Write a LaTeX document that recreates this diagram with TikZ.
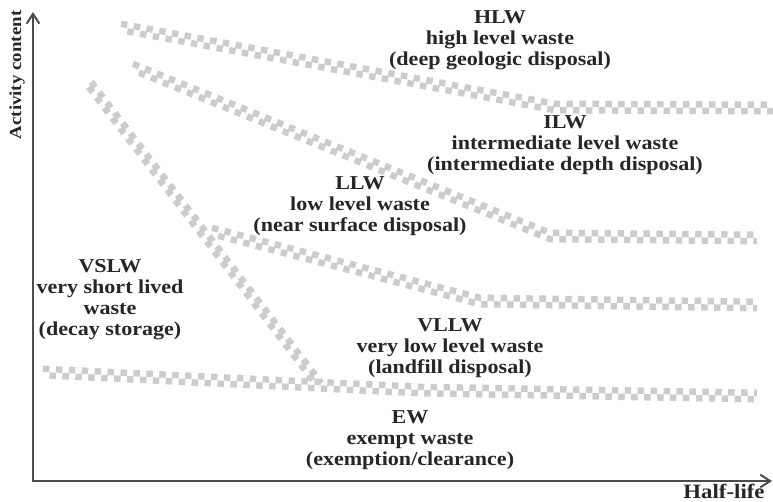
\documentclass[tikz,border=0pt]{standalone}
\usepackage{fontspec}
\setmainfont{Liberation Serif}[FakeStretch=1.12]
\usetikzlibrary{arrows.meta}

\begin{document}
\begin{tikzpicture}[
    x=0.025cm, y=-0.025cm,
    every node/.style={font=\bfseries\fontsize{14}{15}\selectfont, align=center, text=black!85},
    axis/.style={{Straight Barb[length=7pt,width=9pt]}-{Straight Barb[length=7pt,width=9pt]}, line width=1.4pt, black!70},
    band/.style={black!20, line width=4.6pt, dash pattern=on 4.6pt off 4.6pt}
]
\useasboundingbox (0,0) rectangle (773,501);

% 坐标轴
\coordinate (o) at (33,481);
\coordinate (ytop) at (33,12);
\coordinate (xend) at (772,481);
\draw[axis] (ytop) -- (o) -- (xend);
\node[rotate=90, font=\bfseries\fontsize{12}{14}\selectfont] (ylab) at (17,75) {Activity content};
\node[font=\bfseries\fontsize{14.5}{17}\selectfont, inner sep=1pt] (xlab) at (724,491) {Half-life};

% 分界带的折点
\coordinate (hi0) at (121,27);
\coordinate (hi1) at (555,107);
\coordinate (hi2) at (773,108);
\coordinate (il0) at (133,67);
\coordinate (il1) at (550,236);
\coordinate (il2) at (757,238);
\coordinate (lv0) at (212,231);
\coordinate (lv1) at (480,301);
\coordinate (lv2) at (757,305);
\coordinate (ve0) at (43,372);
\coordinate (ve1) at (420,390);
\coordinate (ve2) at (757,396);
\coordinate (vs0) at (88,82);
\coordinate (vs1) at (318,383);

% 棋盘格分界带：两行错开的方块
\foreach \s/\p in {2.3/0, -2.3/4.6} {
  \begin{scope}[band, dash phase=\p pt, transform canvas={yshift=\s pt}]
    \draw (hi0) -- (hi1) -- (hi2);
    \draw (il0) -- (il1) -- (il2);
    \draw (lv0) -- (lv1) -- (lv2);
    \draw (ve0) -- (ve1) -- (ve2);
  \end{scope}
  \begin{scope}[band, dash phase=\p pt, transform canvas={xshift=\s pt}]
    \draw (vs0) -- (vs1);
  \end{scope}
}

% 各类废物
\node (hlw) at (500,40) {HLW\\high level waste\\(deep geologic disposal)};
\node (ilw) at (565,145) {ILW\\intermediate level waste\\(intermediate depth disposal)};
\node (llw) at (360,206) {LLW\\low level waste\\(near surface disposal)};
\node (vslw) at (110,300) {VSLW\\very short lived\\waste\\(decay storage)};
\node (vllw) at (450,348) {VLLW\\very low level waste\\(landfill disposal)};
\node (ew) at (410,440) {EW\\exempt waste\\(exemption/clearance)};

\end{tikzpicture}
\end{document}
